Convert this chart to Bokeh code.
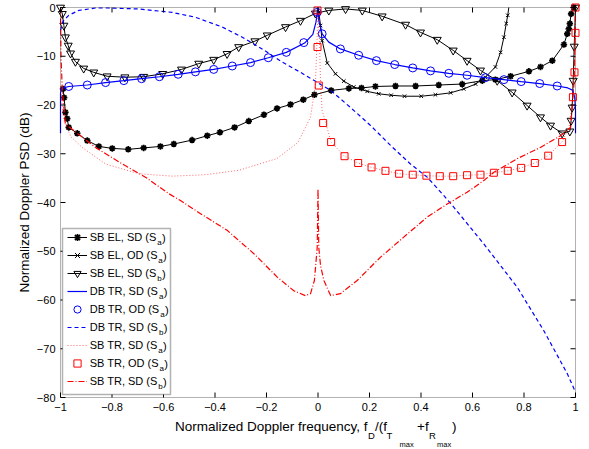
import math
from bokeh.plotting import figure
from bokeh.models import Range1d, Legend, LegendItem, Label, BoxAnnotation
from bokeh.core.properties import value
from bokeh.embed import file_html
from bokeh.resources import INLINE

# ---------------- data ----------------
x_ticks = [-1, -0.8, -0.6, -0.4, -0.2, 0, 0.2, 0.4, 0.6, 0.8, 1]
x_tick_labels = ["\u22121", "\u22120.8", "\u22120.6", "\u22120.4", "\u22120.2", "0",
                 "0.2", "0.4", "0.6", "0.8", "1"]
y_ticks = [-80, -70, -60, -50, -40, -30, -20, -10, 0]
y_tick_labels = ["\u221280", "\u221270", "\u221260", "\u221250", "\u221240", "\u221230",
                 "\u221220", "\u221210", "0"]

# SB EL, SD (S_a)  -- black line with asterisks
sbel_sd_a_x = [-1.0, -0.990, -0.986, -0.981, -0.974, -0.968, -0.935, -0.896, -0.851, -0.799,
               -0.737, -0.677, -0.612, -0.560, -0.489, -0.430, -0.381, -0.324, -0.269,
               -0.210, -0.159, -0.107, -0.057, -0.014, 0.051, 0.120, 0.169, 0.223, 0.301,
               0.379, 0.469, 0.560, 0.638, 0.689, 0.748, 0.819, 0.864, 0.910, 0.955,
               0.968, 0.974, 0.978, 0.983, 0.993]
sbel_sd_a_y = [-16.3, -16.7, -18.5, -21.5, -22.8, -24.6, -25.8, -27.3, -28.5, -28.9,
               -29.1, -28.8, -28.5, -28.0, -27.2, -26.3, -25.6, -24.6, -23.3,
               -22.0, -20.7, -19.9, -18.9, -17.9, -17.0, -16.6, -16.5, -16.2, -16.1,
               -16.1, -15.9, -15.7, -15.0, -14.8, -14.1, -13.1, -12.2, -10.9, -7.6,
               -5.4, -4.4, -3.3, -1.3, 0.0]

# SB EL, OD (S_a)  -- black line with x markers
sbel_od_a_x = [0.0, 0.003, 0.010, 0.016, 0.036, 0.068, 0.100, 0.139, 0.191, 0.236, 0.284,
               0.336, 0.401, 0.456, 0.515, 0.566, 0.612, 0.650, 0.689, 0.709, 0.722,
               0.731, 0.737, 0.741]
sbel_od_a_y = [0.0, -1.0, -3.7, -6.8, -11.4, -13.6, -15.1, -16.3, -17.2, -17.7, -18.0,
               -18.2, -18.2, -17.9, -17.5, -16.7, -15.7, -14.3, -12.2, -9.2, -6.1,
               -3.3, -1.6, 0.0]

# SB EL, SD (S_b)  -- black line with open down-triangles
sbel_sd_b_x = [-1.0, -0.993, -0.987, -0.981, -0.970, -0.961, -0.942, -0.910, -0.871, -0.819,
               -0.750, -0.677, -0.603, -0.530, -0.463, -0.405, -0.353, -0.308, -0.245,
               -0.197, -0.126, -0.068, -0.010, 0.042, 0.107, 0.172, 0.249, 0.340, 0.398,
               0.463, 0.525, 0.579, 0.631, 0.696, 0.754, 0.812, 0.864, 0.903, 0.948,
               0.978, 0.983, 0.987, 0.991, 0.995, 1.0]
sbel_sd_b_y = [0.0, -1.3, -3.7, -6.1, -7.8, -9.4, -11.1, -12.5, -13.3, -14.1,
               -14.3, -14.2, -13.6, -12.7, -11.5, -10.7, -9.5, -8.1, -6.9,
               -5.7, -4.0, -2.7, -1.2, -0.6, -0.3, -0.6, -1.8, -3.5, -5.1,
               -6.6, -8.8, -10.9, -12.9, -15.0, -17.4, -20.1, -22.5, -24.2, -25.8,
               -25.4, -23.2, -20.5, -15.0, -8.0, 0.0]

# DB TR, SD (S_a)  -- blue solid
dbtr_sd_a_x = [-1.0, -1.0, -0.995, -0.968, -0.896, -0.825, -0.754, -0.685, -0.616, -0.543,
               -0.476, -0.405, -0.333, -0.262, -0.193, -0.123, -0.052, -0.020, -0.008,
               -0.002, 0.0, 0.003, 0.016, 0.042, 0.087, 0.158, 0.227, 0.298, 0.368, 0.437,
               0.508, 0.579, 0.650, 0.722, 0.789, 0.861, 0.929, 0.970, 0.990, 0.997,
               1.0, 1.0]
dbtr_sd_a_y = [-25.8, -17.5, -16.6, -16.2, -15.9, -15.4, -15.0, -14.6, -14.2, -13.7,
               -13.2, -12.7, -12.0, -11.3, -10.3, -9.2, -7.3, -5.5, -3.0,
               -1.0, 0.0, -2.7, -5.4, -7.1, -8.5, -9.8, -10.9, -11.7, -12.4, -13.0,
               -13.5, -13.9, -14.4, -14.8, -15.2, -15.6, -16.1, -16.5, -17.0, -18.5,
               -21.0, -25.8]

# DB TR, OD (S_a)  -- blue open circles
dbtr_od_a_x = [-0.968, -0.896, -0.825, -0.754, -0.685, -0.616, -0.543, -0.476, -0.405,
               -0.333, -0.262, -0.193, -0.123, -0.055, -0.003, 0.016, 0.087, 0.158, 0.227,
               0.298, 0.368, 0.437, 0.508, 0.579, 0.650, 0.722, 0.789, 0.861, 0.929]
dbtr_od_a_y = [-16.2, -15.9, -15.4, -15.0, -14.6, -14.2, -13.7, -13.2, -12.7,
               -12.0, -11.3, -10.3, -9.2, -7.2, -1.0, -5.4, -8.5, -9.8, -10.9,
               -11.7, -12.4, -13.0, -13.5, -13.9, -14.4, -14.8, -15.2, -15.6, -16.1]

# DB TR, SD (S_b)  -- blue dashed
dbtr_sd_b_x = [-1.0, -0.990, -0.968, -0.929, -0.864, -0.814, -0.697, -0.566, -0.476, -0.372,
               -0.294, -0.217, -0.139, -0.068, 0.049, 0.126, 0.204, 0.282, 0.359, 0.424,
               0.489, 0.528, 0.644, 0.774, 0.877, 0.968, 1.0]
dbtr_sd_b_y = [-4.7, -2.8, -1.6, -0.6, -0.1, -0.1, -0.3, -1.0, -2.0, -4.0,
               -6.1, -8.5, -11.2, -13.3, -17.0, -20.5, -24.2, -28.3, -32.1, -34.8,
               -38.6, -41.0, -48.5, -57.4, -66.3, -75.1, -78.9]

# SB TR, SD (S_a)  -- red dotted
sbtr_sd_a_x = [-1.0, -0.995, -0.987, -0.960, -0.916, -0.825, -0.696, -0.566, -0.437, -0.308,
               -0.160, -0.078, -0.029, -0.010, -0.003, 0.0, 0.005, 0.010, 0.016, 0.051,
               0.103, 0.156, 0.208, 0.262, 0.315, 0.368, 0.421, 0.473, 0.525, 0.579,
               0.631, 0.683, 0.737, 0.789, 0.842, 0.894, 0.948, 0.975, 0.990, 1.0]
sbtr_sd_a_y = [-16.5, -19.5, -23.2, -26.5, -28.7, -32.1, -34.1, -34.6, -34.3, -33.4,
               -31.0, -27.7, -22.5, -15.7, -5.4, 0.0, -5.4, -15.7, -21.1, -27.6,
               -30.5, -31.9, -32.8, -33.5, -34.1, -34.3, -34.5, -34.6, -34.6, -34.4,
               -34.3, -33.9, -33.5, -32.9, -31.9, -30.4, -27.6, -24.5, -18.4, -5.0]

# SB TR, OD (S_a)  -- red open squares
sbtr_od_a_x = [-0.002, -0.002, 0.003, 0.020, 0.051, 0.103, 0.156, 0.208, 0.262, 0.315,
               0.368, 0.421, 0.473, 0.525, 0.579, 0.631, 0.683, 0.737, 0.789, 0.842,
               0.894, 0.948, 0.990, 0.996, 1.0, 1.0]
sbtr_od_a_y = [-0.6, -8.1, -16.0, -23.7, -27.6, -30.5, -31.9, -32.8, -33.5, -34.1,
               -34.3, -34.5, -34.6, -34.6, -34.4, -34.3, -33.9, -33.5, -32.9, -31.9,
               -30.4, -27.6, -18.4, -13.3, -5.2, 0.0]

# SB TR, SD (S_b)  -- red dash-dot
sbtr_sd_b_x = [-1.0, -0.998, -0.993, -0.981, -0.864, -0.760, -0.670, -0.579, -0.534, -0.456,
               -0.353, -0.249, -0.158, -0.094, -0.049, -0.029, -0.014, -0.003, 0.0, 0.003,
               0.010, 0.023, 0.049, 0.087, 0.152, 0.243, 0.333, 0.424, 0.502, 0.579,
               0.644, 0.683, 0.774, 0.864, 0.942, 0.981, 0.995, 1.0]
sbtr_sd_b_y = [0.0, -10.0, -17.0, -23.9, -28.7, -32.1, -34.8, -38.2, -39.6, -42.3,
               -45.7, -50.5, -55.3, -58.1, -59.1, -58.7, -56.0, -49.2, -37.2, -49.2,
               -53.0, -56.0, -59.1, -58.7, -56.0, -51.2, -47.1, -43.0, -40.3, -37.9,
               -35.5, -33.8, -31.0, -28.7, -26.3, -24.6, -15.0, 0.0]

legend_main = ["SB EL, SD (S", "SB EL, OD (S", "SB EL, SD (S",
               "DB TR, SD (S", "DB TR, OD (S", "DB TR, SD (S",
               "SB TR, SD (S", "SB TR, OD (S", "SB TR, SD (S"]
legend_sub = ["a", "a", "b", "a", "a", "b", "a", "a", "b"]

x_label_parts = ["Normalized Doppler frequency, f", "D", "/(f", "T", "max", "+f", "R",
                 "max", ")"]
x_label_levels = [0, 1, 0, 1, 2, 0, 1, 2, 0]   # 0 normal, 1 subscript, 2 sub-subscript
y_label = "Normalized Doppler PSD (dB)"

# ---------------- layout ----------------
W, H = 589, 449
FL, FR, FT, FB = 60, 575, 7, 397          # axes box in canvas pixels
XMIN, XMAX, YMIN, YMAX = -1.0, 1.0, -80.0, 0.0
FONT = "Liberation Sans"
SX = (XMAX - XMIN) / (FR - FL)            # data units per pixel
SY = (YMAX - YMIN) / (FB - FT)

def dx(X):  # canvas px -> data x
    return XMIN + (X - FL) * SX

def dy(Y):  # canvas px -> data y
    return YMAX - (Y - FT) * SY

AW = {' ': 278, '(': 333, ')': 333, ',': 278, '/': 278, '+': 584, 'B': 667, 'D': 722,
      'E': 667, 'L': 556, 'N': 722, 'O': 778, 'P': 667, 'R': 722, 'S': 667, 'T': 611,
      'a': 556, 'b': 556, 'c': 500, 'd': 556, 'e': 556, 'f': 278, 'i': 222, 'l': 222,
      'm': 833, 'n': 556, 'o': 556, 'p': 556, 'q': 556, 'r': 333, 'u': 556, 'x': 500,
      'y': 500, 'z': 500}

def tw(s, size):
    return sum(AW.get(c, 556) for c in s) / 1000.0 * size

p = figure(width=W, height=H, output_backend="svg", toolbar_location=None,
           x_range=Range1d(dx(0), dx(W)), y_range=Range1d(dy(H), dy(0)),
           x_axis_location=None, y_axis_location=None,
           min_border_left=0, min_border_right=0, min_border_top=0, min_border_bottom=0,
           background_fill_color="white", border_fill_color="white")
p.outline_line_color = None
p.xgrid.grid_line_color = None
p.ygrid.grid_line_color = None

# ---------------- curves ----------------
r1l = p.line(sbel_sd_a_x, sbel_sd_a_y, line_color="black", line_width=1)
r1m = p.scatter(sbel_sd_a_x[1:], sbel_sd_a_y[1:], marker="asterisk", size=6.5,
                line_color="black", line_width=1.7)
r2l = p.line(sbel_od_a_x, sbel_od_a_y, line_color="black", line_width=1)
r2m = p.scatter(sbel_od_a_x[1:-1], sbel_od_a_y[1:-1], marker="x", size=5,
                line_color="black", line_width=1)
r3l = p.line(sbel_sd_b_x, sbel_sd_b_y, line_color="black", line_width=1)
r3m = p.scatter(sbel_sd_b_x, sbel_sd_b_y, marker="inverted_triangle", size=8,
                line_color="black", fill_color=None, line_width=1)
r4 = p.line(dbtr_sd_a_x, dbtr_sd_a_y, line_color="#0000ff", line_width=1.2)
r5 = p.scatter(dbtr_od_a_x, dbtr_od_a_y, marker="circle", size=8,
               line_color="#0000ff", fill_color=None, line_width=1)
r6 = p.line(dbtr_sd_b_x, dbtr_sd_b_y, line_color="#0000ff", line_width=1.2,
            line_dash="4 3")
r7 = p.line(sbtr_sd_a_x, sbtr_sd_a_y, line_color="#ff0000", line_width=1,
            line_alpha=0.6, line_dash="1 2")
r8 = p.scatter(sbtr_od_a_x, sbtr_od_a_y, marker="square", size=7,
               line_color="#ff0000", fill_color=None, line_width=1)
r9 = p.line(sbtr_sd_b_x, sbtr_sd_b_y, line_color="#ff0000", line_width=1.2,
            line_dash="6 2 1 2")

# ---------------- axes box, ticks, tick labels ----------------
p.add_layout(BoxAnnotation(left=XMIN, right=XMAX, bottom=YMIN, top=YMAX,
                           fill_alpha=0, line_color="black", line_width=1))
TK = 5
nx, ny = len(x_ticks), len(y_ticks)
p.segment(x0=x_ticks, y0=[YMIN] * nx, x1=x_ticks, y1=[YMIN + TK * SY] * nx,
          line_color="black", line_width=1)
p.segment(x0=x_ticks, y0=[YMAX] * nx, x1=x_ticks, y1=[YMAX - TK * SY] * nx,
          line_color="black", line_width=1)
p.segment(x0=[XMIN] * ny, y0=y_ticks, x1=[XMIN + TK * SX] * ny, y1=y_ticks,
          line_color="black", line_width=1)
p.segment(x0=[XMAX] * ny, y0=y_ticks, x1=[XMAX - TK * SX] * ny, y1=y_ticks,
          line_color="black", line_width=1)
p.text(x=x_ticks, y=[dy(FB + 5)] * nx, text=x_tick_labels, text_font=value(FONT),
       text_font_size="11px", text_align="center", text_baseline="top",
       text_color="black")
p.text(x=[dx(FL - 5)] * ny, y=y_ticks, text=y_tick_labels, text_font=value(FONT),
       text_font_size="11px", text_align="right", text_baseline="middle",
       text_color="black")
p.add_layout(Label(x=dx(24), y=dy((FT + FB) / 2), text=y_label, angle=math.pi / 2,
                   text_font=FONT, text_font_size="13.5px", text_align="center",
                   text_baseline="middle", text_color="black"))

# ---------------- legend ----------------
p.add_layout(BoxAnnotation(left=dx(62), right=dx(170), top=dy(228), bottom=dy(394),
                           fill_color="white", fill_alpha=1.0, line_color="black",
                           line_width=1.5))
groups = [[r1l, r1m], [r2l, r2m], [r3l, r3m], [r4], [r5], [r6], [r7], [r8], [r9]]
ROW0, PITCH, GX, GW, LX = 237.3, 18, 66.7, 20, 90
leg = Legend(items=[LegendItem(label=m, renderers=g) for m, g in zip(legend_main, groups)],
             location=(GX, H - (ROW0 - PITCH / 2 + PITCH * len(groups))),
             glyph_width=GW, glyph_height=PITCH, label_height=PITCH, spacing=0,
             padding=0, margin=0, label_standoff=int(round(LX - GX - GW)),
             label_text_font=FONT, label_text_font_size="11px", label_text_color="black",
             border_line_alpha=0, background_fill_alpha=0)
p.add_layout(leg)

for i, (m, s) in enumerate(zip(legend_main, legend_sub)):
    c = ROW0 + PITCH * i
    xs = LX + tw(m, 11)
    p.add_layout(Label(x=dx(xs), y=dy(c + 4.5), text=s, text_font=FONT,
                       text_font_size="8px", text_baseline="middle",
                       text_color="black"))
    p.add_layout(Label(x=dx(xs + tw(s, 8) + 0.3), y=dy(c), text=")", text_font=FONT,
                       text_font_size="11px", text_baseline="middle",
                       text_color="black"))

# ---------------- x axis label with subscripts ----------------
SIZES = [13.5, 9.5, 7.5]
CENTERS = [426, 435, 444]
PART_X = [367, 367.5, 374.5, 386, 399, 416.5, 428.5, 436.5, 451.5]     # canvas px
ALIGN = ["right", "left", "left", "left", "left", "left", "left", "left", "left"]
for t, l, xl, al in zip(x_label_parts, x_label_levels, PART_X, ALIGN):
    p.add_layout(Label(x=dx(xl), y=dy(CENTERS[l]), text=t, text_font=FONT,
                       text_font_size=f"{SIZES[l]}px", text_baseline="middle",
                       text_align=al, text_color="black"))

open("out.html", "w").write(file_html(p, INLINE))
